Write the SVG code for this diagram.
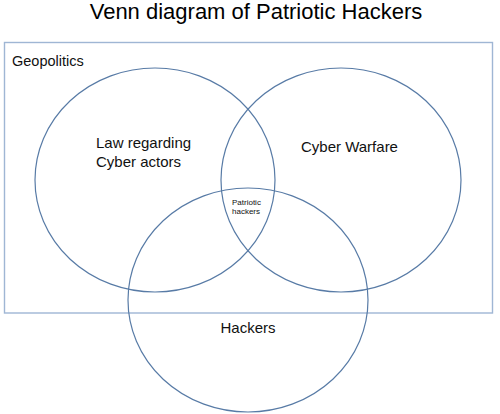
<svg xmlns="http://www.w3.org/2000/svg" width="500" height="414" viewBox="0 0 500 414">
<style>
.bg{fill:#ffffff}
.frame{fill:none;stroke:#9fb6d4;stroke-width:1.4}
.set{fill:none;stroke:#587ba6;stroke-width:1.2}
.t{font-family:"Liberation Sans",Arial,sans-serif;fill:#111111}
.lbl{font-size:15px}
.small{font-size:8px}
.title{font-size:22px;fill:#000000}
</style>
<rect class="bg" x="0" y="0" width="500" height="414"/>
<text class="t title" x="256" y="19" text-anchor="middle">Venn diagram of Patriotic Hackers</text>
<g id="geopolitics">
<rect class="frame" x="4.5" y="42.5" width="488" height="270.5"/>
<text class="t" x="12" y="66" font-size="14.5">Geopolitics</text>
</g>
<g id="law">
<ellipse class="set" cx="155" cy="180" rx="120" ry="112"/>
<text class="t lbl" x="96" y="148">Law regarding</text>
<text class="t lbl" x="96" y="167">Cyber actors</text>
</g>
<g id="warfare">
<ellipse class="set" cx="341" cy="180" rx="120" ry="112"/>
<text class="t lbl" x="301" y="152">Cyber Warfare</text>
</g>
<g id="hackers">
<ellipse class="set" cx="248" cy="300" rx="120" ry="112"/>
<text class="t lbl" x="248" y="333" text-anchor="middle">Hackers</text>
</g>
<g id="patriotic">
<text class="t small" x="232" y="205">Patriotic</text>
<text class="t small" x="232" y="214">hackers</text>
</g>
<g id="connectors"></g>
</svg>
